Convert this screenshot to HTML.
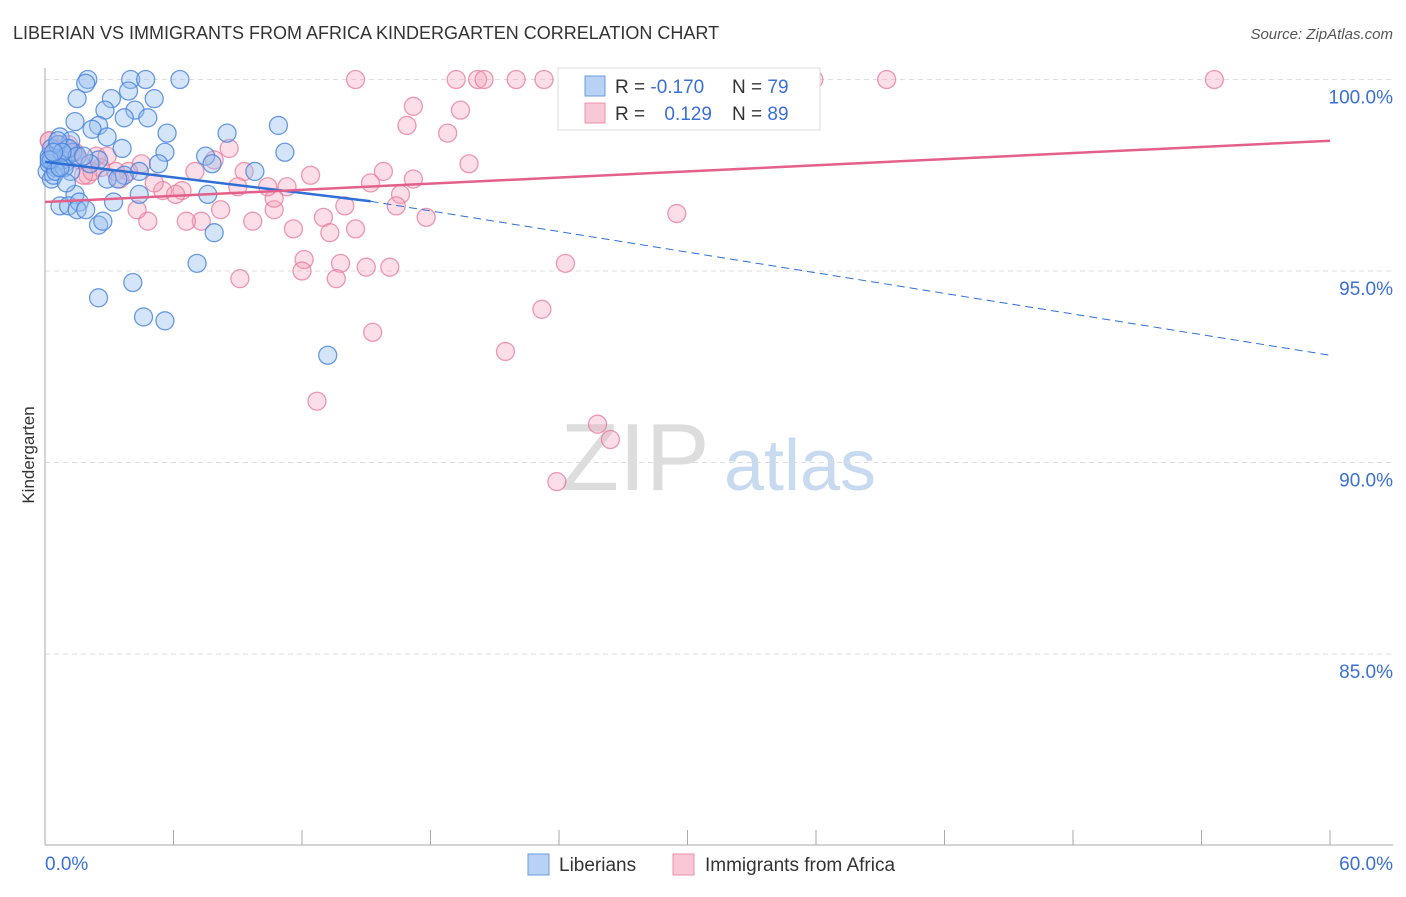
<!DOCTYPE html>
<html><head><meta charset="utf-8"><style>
body{margin:0;background:#fff;font-family:"Liberation Sans",sans-serif;}
svg text{font-family:"Liberation Sans",sans-serif;}
</style></head><body>
<svg id="c" width="1406" height="892" xmlns="http://www.w3.org/2000/svg">
<text x="13" y="39" font-size="18" fill="#333">LIBERIAN VS IMMIGRANTS FROM AFRICA KINDERGARTEN CORRELATION CHART</text>
<text x="1393" y="39" font-size="15" fill="#555" text-anchor="end" font-style="italic">Source: ZipAtlas.com</text>
<text x="34" y="455" font-size="17" fill="#333" text-anchor="middle" transform="rotate(-90 34 455)">Kindergarten</text>
<g>
<text x="635" y="490" font-size="96" fill="#ddd" font-family="Liberation Serif" text-anchor="middle">ZIP</text>
<text x="800" y="490" font-size="72" fill="#c8daf0" text-anchor="middle">atlas</text>
</g>
<g id="grid"></g><g id="axes"></g><g id="pts"></g><g id="trend"></g>
<g>
<rect x="558" y="68" width="262" height="62" fill="#fff" stroke="#ddd"/>
<rect x="585" y="76" width="20" height="20" fill="#b8d2f4" stroke="#6a9be0"/>
<rect x="585" y="103" width="20" height="20" fill="#f9c8d6" stroke="#ec8fab"/>
<text x="615" y="93" font-size="19" fill="#333">R = <tspan fill="#3a6fd8">-0.170</tspan></text>
<text x="732" y="93" font-size="19" fill="#333">N = <tspan fill="#3a6fd8">79</tspan></text>
<text x="615" y="120" font-size="19" fill="#333">R = <tspan fill="#3a6fd8" dx="14">0.129</tspan></text>
<text x="732" y="120" font-size="19" fill="#333">N = <tspan fill="#3a6fd8">89</tspan></text>
</g>
<g>
<rect x="528" y="854" width="21" height="21" fill="#b8d2f4" stroke="#6a9be0"/>
<text x="559" y="871" font-size="19" fill="#333">Liberians</text>
<rect x="673" y="854" width="21" height="21" fill="#f9c8d6" stroke="#ec8fab"/>
<text x="705" y="871" font-size="19" fill="#333">Immigrants from Africa</text>
</g>
</svg>
<script>
const yTicks=[100,95,90,85];
const xTickLabels=["0.0%","60.0%"];
const blueX=[2.0,4.0,4.7,6.3,1.9,3.9,3.1,5.1,1.5,2.8,4.2,4.8,3.7,1.4,2.5,10.9,2.2,5.7,8.5,0.7,2.9,1.2,3.6,5.6,11.2,7.5,0.2,0.4,2.5,5.3,7.8,0.9,0.1,1.2,4.4,9.8,0.3,3.7,2.9,1.4,4.4,7.6,0.7,1.1,1.6,3.2,1.5,1.9,2.5,2.7,7.9,7.1,4.1,2.5,4.6,5.6,13.2,0.3,0.6,1.0,0.5,0.8,1.3,0.2,0.4,0.9,1.1,0.6,0.3,1.5,2.1,0.5,0.8,0.2,1.0,0.7,1.8,0.4,3.4];
const blueY=[100.0,100,100,100,99.9,99.7,99.5,99.5,99.5,99.2,99.2,99.0,99.0,98.9,98.8,98.8,98.7,98.6,98.6,98.5,98.5,98.4,98.2,98.1,98.1,98.0,98.0,97.9,97.9,97.8,97.8,97.8,97.6,97.6,97.6,97.6,97.4,97.5,97.4,97.0,97.0,97.0,96.7,96.7,96.8,96.8,96.6,96.6,96.2,96.3,96.0,95.2,94.7,94.3,93.8,93.7,92.8,98.2,98.3,98.0,97.7,97.9,98.1,97.8,97.5,97.7,98.2,98.4,97.9,98.0,97.8,97.6,98.1,97.9,97.3,97.7,98.0,98.1,97.4];
const pinkX=[14.5,19.2,20.2,20.5,22.0,23.3,24.5,24.7,34.2,35.9,39.3,54.6,17.2,19.4,16.9,18.8,8.6,19.8,15.8,17.2,15.2,12.4,16.6,16.4,17.8,14.0,29.5,13.0,14.5,13.3,11.6,10.7,10.7,11.3,10.4,9.3,9.0,8.2,9.7,7.3,6.6,6.4,5.5,5.1,4.8,4.3,4.5,3.9,3.3,2.6,2.0,1.6,1.2,0.7,0.2,2.4,7.0,7.9,12.1,12.0,13.8,15.0,16.1,13.6,9.1,24.3,23.2,15.3,21.5,12.7,25.8,26.4,23.9,0.3,0.5,0.9,1.1,0.2,0.6,1.4,1.8,2.9,3.5,0.4,0.8,1.0,0.3,2.2,6.1];
const pinkY=[100,100,100,100,100,100,100,100,100,100,100,100,99.3,99.2,98.8,98.6,98.2,97.8,97.6,97.4,97.3,97.5,97.0,96.7,96.4,96.7,96.5,96.4,96.1,96.0,96.1,96.6,96.9,97.2,97.2,97.6,97.2,96.6,96.3,96.3,96.3,97.1,97.1,97.3,96.3,96.6,97.8,97.6,97.6,97.7,97.5,97.9,98.1,98.3,98.4,98.0,97.6,97.9,95.3,95.0,95.2,95.1,95.1,94.8,94.8,95.2,94.0,93.4,92.9,91.6,91.0,90.6,89.5,98.0,98.2,97.9,98.3,98.4,97.7,98.1,97.5,98.0,97.4,97.8,98.1,98.2,97.9,97.6,97.0];
const blueTrend=[[0,97.85],[15.2,96.82],[60,92.8]];
const pinkTrend=[[0,96.8],[60,98.4]];
const X=v=>45+v/60*1285, Y=v=>79.5+(100-v)*38.3;
const NS="http://www.w3.org/2000/svg";
function mk(t,a,p){const e=document.createElementNS(NS,t);for(const k in a)e.setAttribute(k,a[k]);document.getElementById(p).appendChild(e);return e;}
yTicks.forEach(t=>{
 const g=mk('line',{x1:45,x2:1393,y1:Y(t),y2:Y(t),stroke:'#ddd','stroke-dasharray':'5,4'},'grid');
 
 
 const l=mk('text',{x:1393,y:Y(t)+24,'font-size':19,fill:'#3a6fd8','text-anchor':'end'},'axes');
 l.textContent=t.toFixed(1)+'%';
 
 
});
const ax=mk('line',{x1:45,x2:45,y1:68,y2:845,stroke:'#aaa'},'axes');


const bx=mk('line',{x1:45,x2:1393,y1:845,y2:845,stroke:'#aaa'},'axes');


for(let i=0;i<=10;i++){const t=mk('line',{x1:X(i*6),x2:X(i*6),y1:830,y2:845,stroke:'#aaa'},'axes');
 
 }
[[0,'start',45],[1,'end',1393]].forEach(([i,a,x])=>{const t=mk('text',{x:x,y:870,'font-size':19,fill:'#3a6fd8','text-anchor':a},'axes');t.textContent=xTickLabels[i];
 
 });
pinkX.forEach((v,i)=>{const c=mk('circle',{cx:X(v),cy:Y(pinkY[i]),r:9,fill:'rgba(244,160,185,0.35)',stroke:'rgba(232,120,155,0.75)','stroke-width':1.3},'pts');
 
 });
blueX.forEach((v,i)=>{const c=mk('circle',{cx:X(v),cy:Y(blueY[i]),r:9,fill:'rgba(150,190,240,0.4)',stroke:'rgba(70,130,220,0.8)','stroke-width':1.3},'pts');
 
 });
const b1=mk('line',{x1:X(blueTrend[0][0]),y1:Y(blueTrend[0][1]),x2:X(blueTrend[1][0]),y2:Y(blueTrend[1][1]),stroke:'#2f6fd6','stroke-width':2.5},'trend');


const b2=mk('line',{x1:X(blueTrend[1][0]),y1:Y(blueTrend[1][1]),x2:X(blueTrend[2][0]),y2:Y(blueTrend[2][1]),stroke:'#2f6fd6','stroke-width':1,'stroke-dasharray':'8,5'},'trend');


const p1=mk('line',{x1:X(pinkTrend[0][0]),y1:Y(pinkTrend[0][1]),x2:X(pinkTrend[1][0]),y2:Y(pinkTrend[1][1]),stroke:'#e4608a','stroke-width':2.5},'trend');


</script>
</body></html>
